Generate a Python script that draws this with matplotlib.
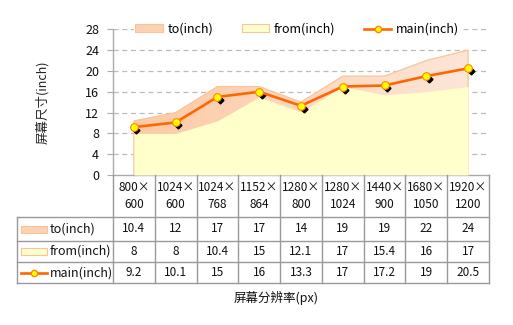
import matplotlib.pyplot as plt
import matplotlib.transforms as mtransforms
from matplotlib.patches import Rectangle, Polygon
from matplotlib.lines import Line2D
from matplotlib.colors import LinearSegmentedColormap
import numpy as np

plt.rcParams['font.family'] = ['Noto Sans CJK SC', 'DejaVu Sans']

resolutions = ["800×\n600", "1024×\n600", "1024×\n768", "1152×\n864", "1280×\n800",
               "1280×\n1024", "1440×\n900", "1680×\n1050", "1920×\n1200"]
to_inch = [10.4, 12, 17, 17, 14, 19, 19, 22, 24]
from_inch = [8, 8, 10.4, 15, 12.1, 17, 15.4, 16, 17]
main_inch = [9.2, 10.1, 15, 16, 13.3, 17, 17.2, 19, 20.5]
yticks = [0, 4, 8, 12, 16, 20, 24, 28]

W, H = 513, 325
fig = plt.figure(figsize=(W / 100, H / 100), dpi=100)
fig.patch.set_facecolor('white')

# plot area in pixel units
left, right, top, bottom = 113, 489, 29.3, 175
ax = fig.add_axes([left / W, 1 - bottom / H, (right - left) / W, (bottom - top) / H])
n = len(resolutions)
x = np.arange(n)

grid_c = '#aaaaaa'
line_c = '#999999'
for v in yticks[1:]:
    ax.axhline(v, color='#bbbbbb', lw=0.9, ls=(0, (4, 3)), zorder=0)

# "to" band: gradient fill clipped to the area under to_inch
to_poly = Polygon(np.column_stack([np.r_[x, x[::-1]], np.r_[to_inch, np.zeros(n)]]),
                  closed=True, facecolor='none', edgecolor='#f9c49a', lw=0.9, zorder=2)
ax.add_patch(to_poly)
grad = LinearSegmentedColormap.from_list('peach', ['#fccaa6', '#fde6d8'])
img = ax.imshow(np.linspace(0, 1, 256)[None, :], cmap=grad, aspect='auto',
                extent=[x[0], x[-1], 0, max(to_inch)], zorder=1)
img.set_clip_path(to_poly)
ax.set_xlim(-0.5, n - 0.5)
ax.set_ylim(0, 28)

ax.fill_between(x, 0, from_inch, color='#ffffcc', lw=0, zorder=3)

# main line with shadowed markers
shadow = mtransforms.offset_copy(ax.transData, fig=fig, x=2.5, y=-3, units='dots')
ax.plot(x, main_inch, ls='none', marker='D', ms=3.5, color='black', transform=shadow, zorder=4)
ax.plot(x, main_inch, color='#ff6600', lw=1.9, marker='o', ms=5.5,
        mfc='#ffff00', mec='#ff8800', mew=0.8, zorder=5)

ax.set_yticks(yticks)
ax.set_xticks([])
ax.tick_params(axis='y', direction='out', length=4, color=grid_c, labelsize=9,
               pad=6, labelcolor='#111111')
for s in ['top', 'right']:
    ax.spines[s].set_visible(False)
for s in ['left', 'bottom']:
    ax.spines[s].set_color(grid_c)
    ax.spines[s].set_linewidth(1)

ax.set_ylabel('屏幕尺寸(inch)', fontsize=9, color='#222222', labelpad=26)

# legend
handles = [
    Rectangle((0, 0), 1, 1, facecolor='#fcd2b4', edgecolor='#f9c49a', lw=0.8),
    Rectangle((0, 0), 1, 1, facecolor='#ffffcc', edgecolor='#f9c49a', lw=0.8),
    Line2D([], [], color='#ff6600', lw=1.9, marker='o', ms=4.5, mfc='#ffff00', mec='#ff8800'),
]
leg = ax.legend(handles, ['to(inch)', 'from(inch)', 'main(inch)'], ncol=3,
                loc='center', bbox_to_anchor=(0.49, 1.0), frameon=True, fontsize=9,
                handlelength=2.2, handleheight=0.6, columnspacing=2.3,
                handletextpad=0.35, borderpad=0.15)
leg.get_frame().set_facecolor('white')
leg.get_frame().set_edgecolor('none')
leg.get_frame().set_alpha(1)
leg.set_zorder(10)

# data table under the plot, columns share the x scale of the axes
tr = mtransforms.blended_transform_factory(ax.transData, fig.transFigure)
fy = lambda py: 1 - py / H
fx = lambda px: px / W
rows_y = [175, 217.3, 240.7, 262.3, 283.3]
edges = np.arange(n + 1) - 0.5

for i in range(n + 1):
    fig.add_artist(Line2D([edges[i]] * 2, [fy(175), fy(283.3)], transform=tr,
                          color=line_c, lw=1))
for py in rows_y[1:]:
    fig.add_artist(Line2D([fx(16.7), fx(right)], [fy(py)] * 2, color=line_c, lw=1))
fig.add_artist(Line2D([fx(16.7)] * 2, [fy(217.3), fy(283.3)], color=line_c, lw=1))

for i, lab in enumerate(resolutions):
    fig.text(x[i], fy(196), lab, transform=tr, ha='center', va='center',
             fontsize=8.5, linespacing=1.4, color='#111111')

series = [to_inch, from_inch, main_inch]
for r, vals in enumerate(series):
    yc = fy((rows_y[r + 1] + rows_y[r + 2]) / 2)
    for i, v in enumerate(vals):
        fig.text(x[i], yc, f'{v:g}', transform=tr, ha='center', va='center',
                 fontsize=8.5, color='#111111')

# table row keys
names = ['to(inch)', 'from(inch)', 'main(inch)']
for r, name in enumerate(names):
    yc = fy((rows_y[r + 1] + rows_y[r + 2]) / 2)
    if r < 2:
        fc = '#fcd2b4' if r == 0 else '#ffffcc'
        fig.add_artist(Rectangle((fx(20.5), yc - 3.5 / H), 26 / W, 7 / H,
                                 transform=fig.transFigure, facecolor=fc,
                                 edgecolor='#f9c49a', lw=0.8))
    else:
        fig.add_artist(Line2D([fx(20.5), fx(33.5), fx(46.5)], [yc] * 3, color='#ff6600',
                              lw=1.9, marker='o', markevery=[1], ms=4.5, mfc='#ffff00',
                              mec='#ff8800'))
    fig.text(fx(50), yc, name, ha='left', va='center', fontsize=9, color='#111111')

fig.text(fx(276), fy(298), '屏幕分辨率(px)', ha='center', va='center',
         fontsize=9, color='#111111')

fig.savefig('out.png', dpi=100)
